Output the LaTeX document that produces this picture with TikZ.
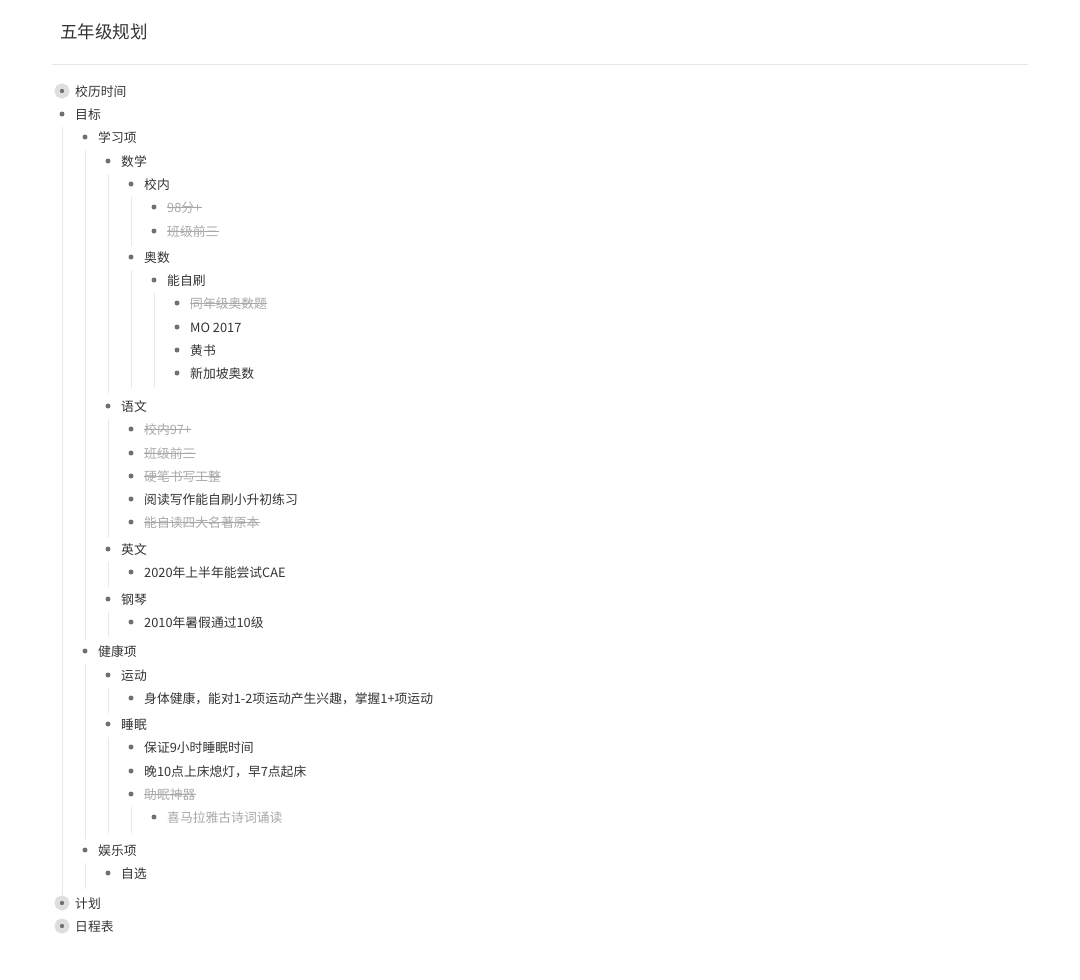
\documentclass[tikz,border=0pt]{standalone}
\usepackage{fontspec}
\setmainfont{Noto Sans CJK SC}
\usetikzlibrary{calc}
\definecolor{txtc}{HTML}{333333}
\definecolor{grayc}{HTML}{A8A8A8}
\definecolor{dotc}{HTML}{707070}
\definecolor{guidec}{HTML}{E8E8E8}
\definecolor{haloc}{HTML}{DEDEDE}
\definecolor{rulec}{HTML}{E6E6E6}
\tikzset{
  txt/.style={anchor=west,inner sep=0pt,font=\fontsize{12.8}{14}\selectfont,text=txtc,yshift=-0.8pt},
  donetxt/.style={txt,text=grayc},
  dot/.style={circle,fill=dotc,inner sep=0pt,minimum size=5pt},
  halodot/.style={dot,draw=haloc,line width=5pt,minimum size=10pt},
  guide/.style={draw=guidec,line width=0.8pt},
  strike/.style={draw=grayc,line width=0.7pt},
}
\begin{document}
\begin{tikzpicture}[x=1pt,y=-1pt]
\useasboundingbox (0,0) rectangle (1080,980);
\node[anchor=west,inner sep=0pt,font=\fontsize{17.5}{20}\selectfont,text=txtc] (title) at (60,32) {五年级规划};
\coordinate (rl) at (52,64); \coordinate (rr) at (1028,64);
\draw[draw=rulec,line width=0.8pt] (rl) -- (rr);
% items
\node[halodot] (b1) at (62,91) {};   \node[txt] (t1) at (75,91) {校历时间};
\node[dot] (b2) at (62,114) {};      \node[txt] (t2) at (75,114) {目标};
\node[dot] (b3) at (85,137) {};      \node[txt] (t3) at (98,137) {学习项};
\node[dot] (b4) at (108,161) {};     \node[txt] (t4) at (121,161) {数学};
\node[dot] (b5) at (131,184) {};     \node[txt] (t5) at (144,184) {校内};
\node[dot] (b6) at (154,207) {};     \node[donetxt] (t6) at (167,207) {98分+};
\node[dot] (b7) at (154,231) {};     \node[donetxt] (t7) at (167,231) {班级前三};
\node[dot] (b8) at (131,257) {};     \node[txt] (t8) at (144,257) {奥数};
\node[dot] (b9) at (154,280) {};     \node[txt] (t9) at (167,280) {能自刷};
\node[dot] (b10) at (177,303) {};    \node[donetxt] (t10) at (190,303) {同年级奥数题};
\node[dot] (b11) at (177,327) {};    \node[txt] (t11) at (190,327) {MO 2017};
\node[dot] (b12) at (177,350) {};    \node[txt] (t12) at (190,350) {黄书};
\node[dot] (b13) at (177,373) {};    \node[txt] (t13) at (190,373) {新加坡奥数};
\node[dot] (b14) at (108,406) {};    \node[txt] (t14) at (121,406) {语文};
\node[dot] (b15) at (131,429) {};    \node[donetxt] (t15) at (144,429) {校内97+};
\node[dot] (b16) at (131,453) {};    \node[donetxt] (t16) at (144,453) {班级前三};
\node[dot] (b17) at (131,476) {};    \node[donetxt] (t17) at (144,476) {硬笔书写工整};
\node[dot] (b18) at (131,499) {};    \node[txt] (t18) at (144,499) {阅读写作能自刷小升初练习};
\node[dot] (b19) at (131,522) {};    \node[donetxt] (t19) at (144,522) {能自读四大名著原本};
\node[dot] (b20) at (108,549) {};    \node[txt] (t20) at (121,549) {英文};
\node[dot] (b21) at (131,572) {};    \node[txt] (t21) at (144,572) {2020年上半年能尝试CAE};
\node[dot] (b22) at (108,599) {};    \node[txt] (t22) at (121,599) {钢琴};
\node[dot] (b23) at (131,622) {};    \node[txt] (t23) at (144,622) {2010年暑假通过10级};
\node[dot] (b24) at (85,651) {};     \node[txt] (t24) at (98,651) {健康项};
\node[dot] (b25) at (108,675) {};    \node[txt] (t25) at (121,675) {运动};
\node[dot] (b26) at (131,698) {};    \node[txt] (t26) at (144,698) {身体健康，能对1-2项运动产生兴趣，掌握1+项运动};
\node[dot] (b27) at (108,724) {};    \node[txt] (t27) at (121,724) {睡眠};
\node[dot] (b28) at (131,747) {};    \node[txt] (t28) at (144,747) {保证9小时睡眠时间};
\node[dot] (b29) at (131,771) {};    \node[txt] (t29) at (144,771) {晚10点上床熄灯，早7点起床};
\node[dot] (b30) at (131,794) {};    \node[donetxt] (t30) at (144,794) {助眠神器};
\node[dot] (b31) at (154,817) {};    \node[donetxt] (t31) at (167,817) {喜马拉雅古诗词诵读};
\node[dot] (b32) at (85,850) {};     \node[txt] (t32) at (98,850) {娱乐项};
\node[dot] (b33) at (108,873) {};    \node[txt] (t33) at (121,873) {自选};
\node[halodot] (b34) at (62,903) {}; \node[txt] (t34) at (75,903) {计划};
\node[halodot] (b35) at (62,926) {}; \node[txt] (t35) at (75,926) {日程表};
% strikethroughs
\foreach \n in {6,7,10,15,16,17,19,30}{
  \draw[strike] (t\n.west |- b\n.center) -- (t\n.east |- b\n.center);
}
% guide lines
\draw[guide] ($(b2)+(0,13)$) -- ($(b2 |- b33)+(0,24)$);
\draw[guide] ($(b3)+(0,13)$) -- ($(b3 |- b23)+(0,18)$);
\draw[guide] ($(b4)+(0,13)$) -- ($(b4 |- b13)+(0,20)$);
\draw[guide] ($(b5)+(0,13)$) -- ($(b5 |- b7)+(0,15)$);
\draw[guide] ($(b8)+(0,13)$) -- ($(b8 |- b13)+(0,15)$);
\draw[guide] ($(b9)+(0,13)$) -- ($(b9 |- b13)+(0,15)$);
\draw[guide] ($(b14)+(0,13)$) -- ($(b14 |- b19)+(0,16)$);
\draw[guide] ($(b20)+(0,13)$) -- ($(b20 |- b21)+(0,15)$);
\draw[guide] ($(b22)+(0,13)$) -- ($(b22 |- b23)+(0,15)$);
\draw[guide] ($(b24)+(0,13)$) -- ($(b24 |- b31)+(0,22)$);
\draw[guide] ($(b25)+(0,13)$) -- ($(b25 |- b26)+(0,15)$);
\draw[guide] ($(b27)+(0,13)$) -- ($(b27 |- b31)+(0,16)$);
\draw[guide] ($(b30)+(0,13)$) -- ($(b30 |- b31)+(0,16)$);
\draw[guide] ($(b32)+(0,13)$) -- ($(b32 |- b33)+(0,16)$);
\end{tikzpicture}
\end{document}
